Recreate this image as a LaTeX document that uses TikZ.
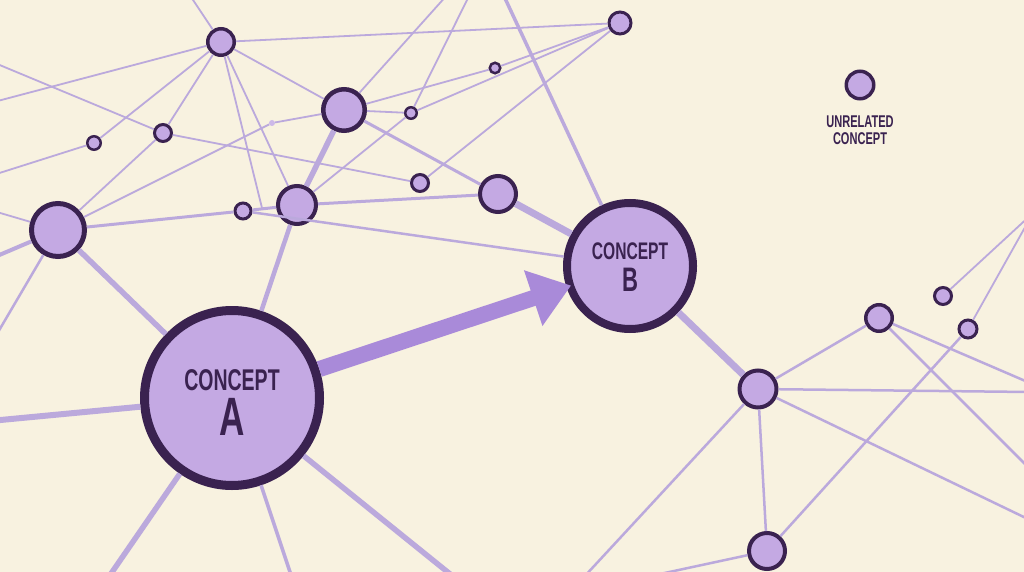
\documentclass[tikz,border=0pt]{standalone}
\usepackage{fontspec}
\newfontfamily\cfont[FakeStretch=0.65]{Liberation Sans}
\usetikzlibrary{arrows.meta}

\definecolor{bgcol}{HTML}{F8F2E0}
\definecolor{nodecol}{HTML}{C4A9E3}
\definecolor{dotcol}{HTML}{CDB9E8}
\definecolor{ringcol}{HTML}{3A2250}
\definecolor{linecol}{HTML}{BBA9DC}
\definecolor{arrowcol}{HTML}{A98AD9}

\begin{document}
\begin{tikzpicture}[x=1pt,y=-1pt,
   hub/.style={circle,draw=ringcol,fill=nodecol,inner sep=0pt},
   thinedge/.style={draw=linecol,line width=1.8pt},
   midedge/.style={draw=linecol,line width=3pt},
   thickedge/.style={draw=linecol,line width=5.5pt},
   lbl/.style={text=ringcol,inner sep=0pt,font=\cfont\bfseries},
   bigarrow/.style={draw=arrowcol,line width=16pt,shorten >=-5pt,
      -{Triangle[length=40pt,width=56pt]}}]
   \clip (0,0) rectangle (1024,572);
   \fill[bgcol] (0,0) rectangle (1024,572);

   %% Knoten
   \node[hub,minimum size=26.5pt,line width=3.5pt] (p1) at (221,42) {};
   \node[hub,minimum size=41.5pt,line width=4.5pt] (p2) at (344,110) {};
   \node[hub,minimum size=11.5pt,line width=2.5pt] (p3) at (411,113) {};
   \node[hub,minimum size=10.5pt,line width=2.5pt] (p4) at (495,68) {};
   \node[hub,minimum size=22pt,line width=3pt] (p5) at (620,23) {};
   \node[hub,minimum size=17pt,line width=3pt] (p6) at (163,133) {};
   \node[hub,minimum size=13.5pt,line width=2.5pt] (p7) at (94,143) {};
   \node[circle,fill=dotcol,inner sep=0pt,minimum size=6pt] (p8) at (272,123) {};
   \node[hub,minimum size=17pt,line width=3pt] (p9) at (420,183) {};
   \node[hub,minimum size=36pt,line width=4pt] (p10) at (498,194) {};
   \node[hub,minimum size=53pt,line width=5pt] (p11) at (58,230) {};
   \node[hub,minimum size=16pt,line width=3pt] (p12) at (243,211) {};
   \node[hub,minimum size=38pt,line width=4pt] (p13) at (297,205) {};
   \node[hub,minimum size=37pt,line width=4pt] (p14) at (758,389) {};
   \node[hub,minimum size=26.5pt,line width=3.5pt] (p15) at (879,318) {};
   \node[hub,minimum size=17pt,line width=3pt] (p16) at (943,296) {};
   \node[hub,minimum size=18pt,line width=3pt] (p17) at (968,329) {};
   \node[hub,minimum size=36pt,line width=4pt] (p18) at (767,551) {};
   \node[hub,minimum size=27.5pt,line width=3.5pt] (u) at (860,85) {};
   \node[hub,minimum size=175pt,line width=9pt] (a) at (232,398) {};
   \node[hub,minimum size=126pt,line width=8pt] (b) at (630,266) {};

   %% Beschriftung
   \node[lbl,font=\cfont\bfseries\fontsize{30}{30}\selectfont] (aT) at ([yshift=18pt]a.center) {CONCEPT};
   \node[lbl,font=\cfont\bfseries\fontsize{54}{54}\selectfont] (aL) at ([yshift=-19pt]a.center) {A};
   \node[lbl,font=\cfont\bfseries\fontsize{24}{24}\selectfont] (bT) at ([yshift=15pt]b.center) {CONCEPT};
   \node[lbl,font=\cfont\bfseries\fontsize{34}{34}\selectfont] (bL) at ([yshift=-14pt]b.center) {B};
   \node[lbl,align=center,font=\cfont\bfseries\fontsize{17}{17.3}\selectfont] (uT) at (860,130) {UNRELATED\\CONCEPT};

   %% Randpunkte
   \coordinate (o1) at (189,-6);
   \coordinate (o2) at (-10,103);
   \coordinate (c1) at (262,208);
   \coordinate (o4) at (448,-6);
   \coordinate (o5) at (470,-6);
   \coordinate (o6) at (-10,61);
   \coordinate (o7) at (-10,176);
   \coordinate (o8) at (-10,210);
   \coordinate (o9) at (-10,259);
   \coordinate (o10) at (-6,339);
   \coordinate (o11) at (503,-6);
   \coordinate (o12) at (-10,421);
   \coordinate (o13) at (108,578);
   \coordinate (o14) at (292,578);
   \coordinate (o15) at (455,578);
   \coordinate (o16) at (1030,392);
   \coordinate (o17) at (1030,520);
   \coordinate (o18) at (583,578);
   \coordinate (o19) at (1030,383);
   \coordinate (o20) at (1030,469);
   \coordinate (o21) at (1033,213);
   \coordinate (o23) at (660,574);

   %% Kanten oben links
   \draw[thinedge] (p1) -- (o1);
   \draw[thinedge] (p1) -- (p5);
   \draw[thinedge] (p1) -- (o2);
   \draw[thinedge] (p1) -- (p7);
   \draw[thinedge] (p1) -- (p6);
   \draw[thinedge] (p1) -- (p2);
   \draw[thinedge] (p1) -- (c1);
   \draw[thinedge] (p1) -- (p13);
   \draw[thinedge] (p2) -- (o4);
   \draw[thinedge] (p2) -- (p3);
   \draw[thinedge] (p2) -- (p4);
   \draw[thinedge] (p4) -- (p5);
   \draw[thinedge] (p3) -- (p5);
   \draw[thinedge] (p9) -- (p5);
   \draw[thinedge] (p13) -- (p3);
   \draw[thinedge] (p3) -- (o5);
   \draw[midedge] (p2) -- (p10);
   \draw[thickedge] (p2) -- (p13);
   \draw[thinedge] (p2) -- (p8);
   \draw[thinedge] (p8) -- (p11);
   \draw[thinedge] (p6) -- (o6);
   \draw[thinedge] (p6) -- (p9);
   \draw[thinedge] (p6) -- (p11);
   \draw[thinedge] (p7) -- (o7);
   \draw[midedge] (p11) -- (p12);
   \draw[thinedge] (p11) -- (o8);
   \draw[midedge,line width=4pt] (p11) -- (o9);
   \draw[thinedge,line width=2.5pt] (p11) -- (o10);
   \draw[midedge] (p12) -- (p13);
   \draw[thinedge,line width=2.5pt] (p12) -- (b);
   \draw[midedge] (p13) -- (p10);

   %% Kanten um A und B
   \draw[thickedge,line width=4.5pt] (p13) -- (a);
   \draw[thickedge] (p11) -- (a);
   \draw[thickedge,line width=7pt] (p10) -- (b);
   \draw[midedge,line width=3.5pt] (b) -- (o11);
   \draw[thickedge,line width=7pt] (b) -- (p14);
   \draw[thickedge,line width=6pt] (a) -- (o12);
   \draw[thickedge] (a) -- (o13);
   \draw[midedge,line width=3.5pt] (a) -- (o14);
   \draw[thickedge] (a) -- (o15);

   %% Kanten rechts
   \draw[thinedge,line width=2.5pt] (p14) -- (p15);
   \draw[thinedge,line width=2.5pt] (p14) -- (o16);
   \draw[thinedge,line width=2.5pt] (p14) -- (o17);
   \draw[thinedge,line width=2.5pt] (p14) -- (p18);
   \draw[thinedge,line width=2.5pt] (p14) -- (o18);
   \draw[thinedge,line width=2.5pt] (p15) -- (o19);
   \draw[thinedge,line width=2.5pt] (p15) -- (o20);
   \draw[thinedge] (p16) -- (o21);
   \draw[thinedge] (p17) -- (o21);
   \draw[thinedge,line width=2.5pt] (p17) -- (p18);
   \draw[thinedge,line width=2.5pt] (p18) -- (o23);

   %% Pfeil
   \draw[bigarrow] (a) -- (b);
\end{tikzpicture}
\end{document}
